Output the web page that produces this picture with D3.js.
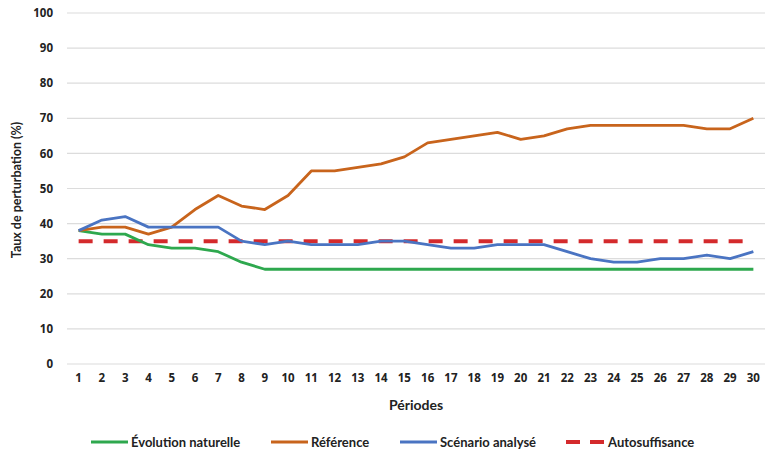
<!DOCTYPE html>
<html>
<head>
<meta charset="utf-8">
<script src="https://cdn.jsdelivr.net/npm/d3@7"></script>
<style>
  html, body { margin: 0; padding: 0; background: #ffffff; }
  svg { display: block; }
  text { font-family: Lato, "Open Sans", sans-serif; font-weight: 700; fill: #222; }
</style>
</head>
<body>
<div id="chart"></div>
<script>
// Périodes 1..30
const periods = d3.range(1, 31);

// Taux de perturbation (%) par série
const evolutionNaturelle = [38, 37, 37, 34, 33, 33, 32, 29, 27, 27, 27, 27, 27, 27, 27,
                            27, 27, 27, 27, 27, 27, 27, 27, 27, 27, 27, 27, 27, 27, 27];
const reference = [38, 39, 39, 37, 39, 44, 48, 45, 44, 48, 55, 55, 56, 57, 59,
                   63, 64, 65, 66, 64, 65, 67, 68, 68, 68, 68, 68, 67, 67, 70];
const scenarioAnalyse = [38, 41, 42, 39, 39, 39, 39, 35, 34, 35, 34, 34, 34, 35, 35,
                         34, 33, 33, 34, 34, 34, 32, 30, 29, 29, 30, 30, 31, 30, 32];
const autosuffisance = [35, 35, 35, 35, 35, 35, 35, 35, 35, 35, 35, 35, 35, 35, 35,
                        35, 35, 35, 35, 35, 35, 35, 35, 35, 35, 35, 35, 35, 35, 35];

const yTicks = [0, 10, 20, 30, 40, 50, 60, 70, 80, 90, 100];

const seriesNames = ["Évolution naturelle", "Référence", "Scénario analysé", "Autosuffisance"];
const seriesValues = [evolutionNaturelle, reference, scenarioAnalyse, autosuffisance];
const seriesColors = ["#2ea84e", "#c8641c", "#4a74c2", "#d42a2c"];
const seriesWidths = [2.8, 2.8, 2.8, 4];
const seriesDash = [null, null, null, "14,11"];

const W = 766, H = 453;
const margin = { top: 13, right: 1, bottom: 89, left: 67 };

const svg = d3.select("#chart").append("svg")
  .attr("width", W).attr("height", H);

const x = d3.scaleBand()
  .domain(periods)
  .range([margin.left, W - margin.right]);

const y = d3.scaleLinear()
  .domain([0, 100])
  .range([H - margin.bottom, margin.top]);

// horizontal gridlines
svg.append("g")
  .selectAll("line")
  .data(yTicks)
  .join("line")
  .attr("x1", margin.left)
  .attr("x2", W - margin.right)
  .attr("y1", d => y(d))
  .attr("y2", d => y(d))
  .attr("stroke", "#dcdcdc")
  .attr("stroke-width", 1.2);

const tickFont = "'Open Sans', Lato, sans-serif";

// y axis labels
const yAxis = svg.append("g")
  .attr("transform", `translate(${margin.left},0)`)
  .call(d3.axisLeft(y).tickValues(yTicks).tickSize(0).tickPadding(14));
yAxis.select(".domain").remove();
yAxis.selectAll("text")
  .attr("font-size", 11.5)
  .style("font-family", tickFont)
  .style("font-weight", 700)
  .attr("fill", "#222");

// x axis labels
const xAxis = svg.append("g")
  .attr("transform", `translate(0,${y(0)})`)
  .call(d3.axisBottom(x).tickSize(0).tickPadding(10));
xAxis.select(".domain").remove();
xAxis.selectAll("text")
  .attr("font-size", 11.5)
  .style("font-family", tickFont)
  .style("font-weight", 700)
  .attr("fill", "#222");

// axis titles
svg.append("text")
  .attr("x", 416)
  .attr("y", 410)
  .attr("text-anchor", "middle")
  .attr("font-size", 14)
  .text("Périodes");

svg.append("text")
  .attr("transform", `translate(21,190) rotate(-90)`)
  .attr("text-anchor", "middle")
  .attr("font-size", 12.5)
  .text("Taux de perturbation (%)");

// series lines
const line = d3.line()
  .x((d, i) => x(periods[i]) + x.bandwidth() / 2)
  .y(d => y(d));

const drawOrder = [3, 0, 1, 2];
svg.append("g")
  .selectAll("path")
  .data(drawOrder)
  .join("path")
  .attr("d", k => line(seriesValues[k]))
  .attr("fill", "none")
  .attr("stroke", k => seriesColors[k])
  .attr("stroke-width", k => seriesWidths[k])
  .attr("stroke-dasharray", k => seriesDash[k])
  .attr("stroke-linejoin", "round");

// legend
const legendX = [91, 271, 400, 566];
const legendY = 442;
const leg = svg.append("g")
  .selectAll("g")
  .data(seriesNames)
  .join("g")
  .attr("transform", (d, i) => `translate(${legendX[i]},${legendY})`);

leg.append("line")
  .attr("x1", 0).attr("x2", (d, i) => i === 3 ? 38 : 37)
  .attr("y1", 0).attr("y2", 0)
  .attr("stroke", (d, i) => seriesColors[i])
  .attr("stroke-width", (d, i) => i === 3 ? 4 : 2.8)
  .attr("stroke-dasharray", (d, i) => i === 3 ? "14,10" : null);

leg.append("text")
  .attr("x", (d, i) => i === 3 ? 42 : 40)
  .attr("y", 0)
  .attr("dy", "0.35em")
  .attr("font-size", 13)
  .text(d => d);
</script>
</body>
</html>
